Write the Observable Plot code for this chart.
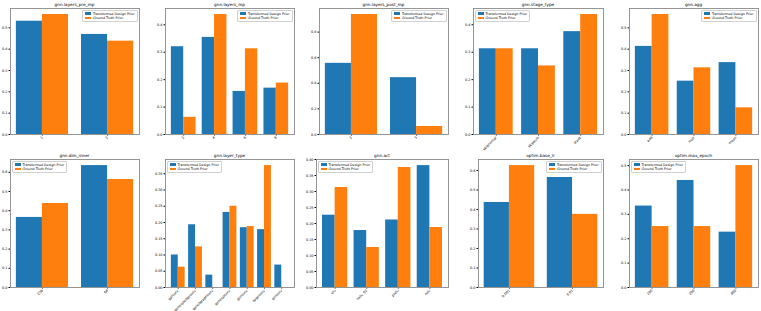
<!DOCTYPE html>
<html>
<head>
<meta charset="utf-8">
<script src="https://cdn.jsdelivr.net/npm/d3@7"></script>
<script src="https://cdn.jsdelivr.net/npm/@observablehq/plot@0.6"></script>
<style>
  html, body { margin: 0; padding: 0; background: #fff; }
  #root { position: relative; width: 761px; height: 311px; overflow: hidden; font-family: "DejaVu Sans", sans-serif; }
  .panel { position: absolute; }
  .title { position: absolute; font-size: 4.2px; color: #000; text-align: center; white-space: nowrap; transform: translateX(-50%); }
  .legend { position: absolute; background: rgba(255,255,255,0.85); border: 0.6px solid #d0d0d0; border-radius: 1px; padding: 1.2px 2px; font-size: 3.3px; line-height: 4.2px; white-space: nowrap; }
  .legend .sw { display: inline-block; width: 6px; height: 2.6px; margin-right: 2px; vertical-align: -0.3px; }
</style>
</head>
<body>
<div id="root"></div>
<script>
const seriesNames = ["Transformed Design Prior", "Ground Truth Prior"];
const seriesColors = ["#1f77b4", "#ff7f0e"];

const titles = ["gnn.layers_pre_mp", "gnn.layers_mp", "gnn.layers_post_mp", "gnn.stage_type", "gnn.agg",
                "gnn.dim_inner", "gnn.layer_type", "gnn.act", "optim.base_lr", "optim.max_epoch"];

const catsPreMp = ["1", "2"];
const bluePreMp = [0.531, 0.469];
const orangePreMp = [0.5625, 0.4375];

const catsMp = ["2", "4", "6", "8"];
const blueMp = [0.320, 0.354, 0.157, 0.169];
const orangeMp = [0.0625, 0.4375, 0.3125, 0.1875];

const catsPostMp = ["2", "3"];
const bluePostMp = [0.556, 0.444];
const orangePostMp = [0.9375, 0.0625];

const catsStage = ["skipconcat", "skipsum", "stack"];
const blueStage = [0.3125, 0.3125, 0.375];
const orangeStage = [0.3125, 0.25, 0.4375];

const catsAgg = ["add", "max", "mean"];
const blueAgg = [0.413, 0.250, 0.337];
const orangeAgg = [0.5625, 0.3125, 0.125];

const catsDim = ["256", "64"];
const blueDim = [0.365, 0.635];
const orangeDim = [0.4375, 0.5625];

const catsLayer = ["gatconv", "generaledgeconv", "gatedgraphconv", "generalconv", "gcnconv", "sageconv", "ginconv"];
const blueLayer = [0.100, 0.193, 0.038, 0.231, 0.184, 0.178, 0.069];
const orangeLayer = [0.0625, 0.125, 0, 0.25, 0.1875, 0.375, 0];

const catsAct = ["elu", "lrelu_01", "prelu", "relu"];
const blueAct = [0.226, 0.178, 0.211, 0.381];
const orangeAct = [0.3125, 0.125, 0.375, 0.1875];

const catsLr = ["0.001", "0.01"];
const blueLr = [0.436, 0.564];
const orangeLr = [0.625, 0.375];

const catsEpoch = ["100", "200", "400"];
const blueEpoch = [0.334, 0.439, 0.227];
const orangeEpoch = [0.25, 0.25, 0.5];

const yTickSteps = [0.1, 0.1, 0.2, 0.1, 0.1, 0.1, 0.05, 0.05, 0.1, 0.1];
const legendSides = ["right", "right", "right", "left", "right", "left", "left", "left", "right", "left"];

// frame boxes [left, top, right, bottom] (layout only)
const frames = [
  [10, 8, 139, 134], [165, 8, 294, 134], [319, 8, 448, 134], [473, 8, 603, 134], [629, 8, 758, 134],
  [10, 159, 139, 287], [165, 159, 294, 287], [316, 159, 448, 287], [478, 159, 603, 287], [629, 159, 758, 287]
];

const panels = [
  [catsPreMp, bluePreMp, orangePreMp],
  [catsMp, blueMp, orangeMp],
  [catsPostMp, bluePostMp, orangePostMp],
  [catsStage, blueStage, orangeStage],
  [catsAgg, blueAgg, orangeAgg],
  [catsDim, blueDim, orangeDim],
  [catsLayer, blueLayer, orangeLayer],
  [catsAct, blueAct, orangeAct],
  [catsLr, blueLr, orangeLr],
  [catsEpoch, blueEpoch, orangeEpoch]
];

const root = document.getElementById("root");
const ml = 16, mr = 2, mt = 2, mb = 24;

panels.forEach(([cats, blue, orange], p) => {
  const [fl, ft, fr, fb] = frames[p];
  const n = cats.length;
  const W = (n - 1) + 0.8;
  const xDomain = [-0.4 - 0.05 * W, n - 1 + 0.4 + 0.05 * W];
  const ymax = Math.max(...blue, ...orange) * 1.05;
  const step = yTickSteps[p];
  const yTicks = d3.range(0, ymax + 1e-9, step);
  const dec = step < 0.1 ? 2 : 1;

  const rows = [];
  cats.forEach((c, i) => {
    rows.push({i, s: 0, v: blue[i]});
    rows.push({i, s: 1, v: orange[i]});
  });

  const chart = Plot.plot({
    width: (fr - fl) + ml + mr,
    height: (fb - ft) + mt + mb,
    marginLeft: ml, marginRight: mr, marginTop: mt, marginBottom: mb,
    style: {fontSize: "3.4px", fontFamily: "DejaVu Sans, sans-serif", background: "transparent", overflow: "visible"},
    x: {domain: xDomain, ticks: d3.range(n), tickFormat: i => cats[i], tickRotate: -45, tickSize: 1.5, tickPadding: 1, label: null},
    y: {domain: [0, ymax], ticks: yTicks, tickFormat: d => d.toFixed(dec), tickSize: 1.5, tickPadding: 1.5, label: null},
    marks: [
      Plot.rectY(rows.filter(d => d.s === 0), {x1: d => d.i - 0.4, x2: d => d.i, y: "v", fill: seriesColors[0]}),
      Plot.rectY(rows.filter(d => d.s === 1), {x1: d => d.i, x2: d => d.i + 0.4, y: "v", fill: seriesColors[1]}),
      Plot.frame({stroke: "#8a8a8a", strokeWidth: 0.9})
    ]
  });
  const wrap = document.createElement("div");
  wrap.className = "panel";
  wrap.style.left = (fl - ml) + "px";
  wrap.style.top = (ft - mt) + "px";
  wrap.appendChild(chart);
  root.appendChild(wrap);

  const t = document.createElement("div");
  t.className = "title";
  t.textContent = titles[p];
  t.style.left = ((fl + fr) / 2) + "px";
  t.style.top = (ft - 6) + "px";
  root.appendChild(t);

  const lg = document.createElement("div");
  lg.className = "legend";
  lg.innerHTML = seriesNames.map((s, k) =>
    `<div><span class="sw" style="background:${seriesColors[k]}"></span>${s}</div>`).join("");
  lg.style.top = (ft + 1.5) + "px";
  if (legendSides[p] === "right") lg.style.right = (761 - fr + 1.5) + "px";
  else lg.style.left = (fl + 1.5) + "px";
  root.appendChild(lg);
});
</script>
</body>
</html>
